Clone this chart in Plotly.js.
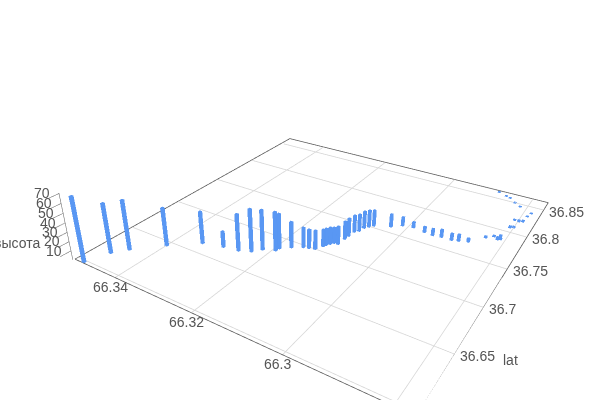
<!DOCTYPE html>
<html><head><meta charset="utf-8"><script src="https://cdn.plot.ly/plotly-3.0.1.min.js"></script>
<style>html,body{margin:0;padding:0;background:#fff;overflow:hidden;width:600px;height:400px}#g{position:absolute;left:-75px;top:-50px;width:750px;height:500px}</style></head><body><div id="g"></div>
<script>
var lat=[36.5980,36.6162,36.6265,36.6452,36.6618,36.6662,36.6682,36.6723,36.6788,36.6829,36.6866,36.6925,36.6974,36.6987,36.7000,36.7065,36.7089,36.7117,36.7144,36.7149,36.7237,36.7290,36.7365,36.7398,36.7458,36.7492,36.7527,36.7586,36.7651,36.7670,36.7649,36.7642,36.7653,36.7654,36.7670,36.7697,36.7825,36.7846,36.7860,36.7875,36.7900,36.8071,36.8085,36.8200,36.8215,36.8205,36.8317,36.8383,36.8450,36.8496,36.8560,36.8577,36.8616];
var lon=[66.3495,66.3476,66.3453,66.3399,66.3341,66.3294,66.3258,66.3233,66.3218,66.3193,66.3191,66.3172,66.3151,66.3139,66.3126,66.3118,66.3115,66.3110,66.3105,66.3096,66.3094,66.3093,66.3091,66.3084,66.3081,66.3074,66.3067,66.3033,66.3013,66.2989,66.2960,66.2940,66.2921,66.2898,66.2884,66.2865,66.2839,66.2815,66.2810,66.2825,66.2813,66.2807,66.2800,66.2798,66.2790,66.2808,66.2788,66.2784,66.2815,66.2831,66.2848,66.2859,66.2880];
var height=[70.0,54.6,54.9,42.5,36.1,18.2,41.0,47.3,44.3,43.1,39.0,29.2,22.6,21.5,21.4,19.3,19.3,19.4,18.3,20.5,20.7,20.8,19.8,19.9,20.0,20.0,18.9,15.4,10.7,7.1,7.1,8.2,9.3,8.1,8.1,4.6,2.3,3.5,2.0,1.8,2.3,2.4,2.0,2.4,2.2,1.5,1.2,1.2,1.2,1.3,1.3,1.3,1.3];
var latTicks=[36.6,36.65,36.7,36.75,36.8,36.85],lonTicks=[66.28,66.3,66.32,66.34],zTicks=[10,20,30,40,50,60,70];
var la0=36.597,la1=36.865,lo0=66.2764,lo1=66.352,base=.5,pad=.004;
var X=[],Y=[],Z=[],I=[],J=[],K=[],wx=.0011,wy=.00032;
lat.forEach(function(la,n){var o=X.length,lo=lon[n];
 [[-1,-1,0],[1,-1,0],[1,1,0],[-1,1,0],[-1,-1,1],[1,-1,1],[1,1,1],[-1,1,1]].forEach(function(c){X.push(la+c[0]*wx);Y.push(lo+c[1]*wy);Z.push(c[2]?height[n]:base);});
 [[0,1,2],[0,2,3],[4,5,6],[4,6,7],[0,1,5],[0,5,4],[1,2,6],[1,6,5],[2,3,7],[2,7,6],[3,0,4],[3,4,7]].forEach(function(t){I.push(o+t[0]);J.push(o+t[1]);K.push(o+t[2]);});});
var fnt={family:'Liberation Sans',size:14,color:'#555'};
function line(xs,ys,c,w){return {type:'scatter3d',mode:'lines',x:xs,y:ys,z:xs.map(function(){return base;}),line:{color:c,width:w},hoverinfo:'skip',showlegend:false};}
var data=[{type:'mesh3d',x:X,y:Y,z:Z,i:I,j:J,k:K,color:'#5c9eff',opacity:.92,flatshading:true,hoverinfo:'skip',lighting:{ambient:.95,diffuse:.4,specular:0},lightposition:{x:-300,y:-3000,z:500}}];
latTicks.forEach(function(v){data.push(line([v,v],[lo0,lo1],'#d4d4d4',1.5));});
lonTicks.forEach(function(v){data.push(line([la0,la1],[v,v],'#d4d4d4',1.5));});
data.push(line([la0,la1,la1,la0,la0],[lo1,lo1,lo0,lo0,lo1],'#555',1.5));
var ann=[];
function T(x,y,z,txt,xa,xs,ys){ann.push({x:x,y:y,z:z,text:txt,showarrow:false,font:fnt,xanchor:xa,xshift:xs,yshift:ys});}
lonTicks.slice(1).forEach(function(v){T(la0,v,base,String(v),'center',-5,-9.5);});
latTicks.slice(1).forEach(function(v){T(v,lo0,base,String(v),'left',3.5,-2);});
zTicks.forEach(function(v){T(la0,lo1,v,String(v),'right',-9,0);});
T(36.65,lo0,base,'lat','left',46,-5.5);
T(la0,lo1,18,'высота','right',-30,0);
function hid(r){return {range:r,showgrid:false,showline:false,zeroline:false,showticklabels:false,ticks:'',showspikes:false,showbackground:false,title:{text:''}};}
var pla=(la1-la0)*pad,plo=(lo1-lo0)*pad;
var zax=hid([0,70.5]);zax.showline=true;zax.linecolor='#555';zax.ticks='outside';zax.ticklen=5;zax.tickcolor='#555';zax.tickvals=zTicks;
Plotly.newPlot('g',data,{width:750,height:500,margin:{l:0,r:0,t:0,b:0},showlegend:false,scene:{xaxis:hid([la0-pla,la1+pla]),yaxis:hid([lo0-plo,lo1+plo]),zaxis:zax,annotations:ann,aspectmode:'manual',aspectratio:{x:1.023*(1+2*pad),y:.978*(1+2*pad),z:.2},camera:{eye:{x:-1.3134,y:-.7527,z:.79},center:{x:-.0564,y:.0698,z:0},up:{x:0,y:0,z:1}}}},{displayModeBar:false});
</script></body></html>
